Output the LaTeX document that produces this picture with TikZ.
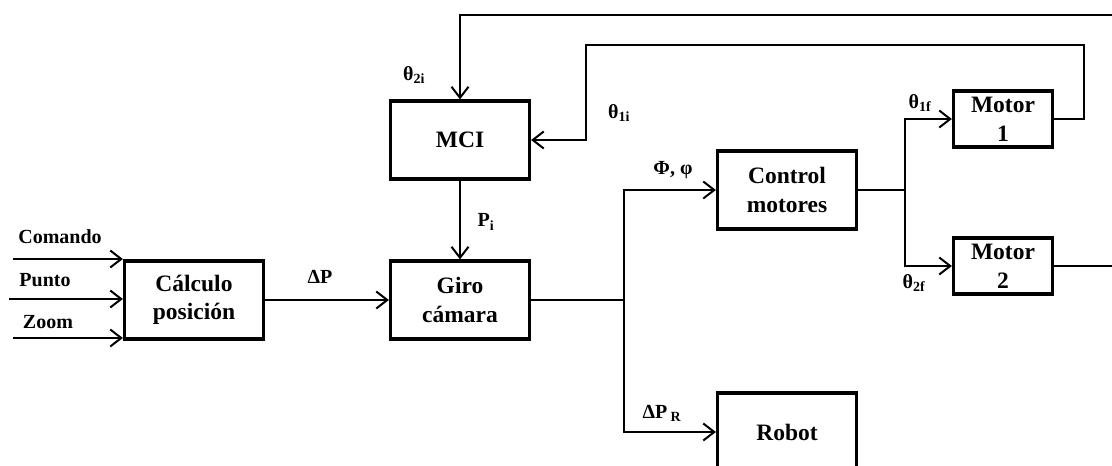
\documentclass[tikz,border=0pt]{standalone}
\usepackage{fontspec}
\setmainfont{Liberation Serif}
\usetikzlibrary{arrows.meta}
\begin{document}
\begin{tikzpicture}[x=1pt,y=-1pt,
 blk/.style={draw, line width=3.2pt, minimum width=139pt, minimum height=78pt, align=center,
   font=\fontsize{23.5}{28.5}\selectfont\bfseries, inner sep=0pt},
 mot/.style={blk, minimum width=99pt, minimum height=56pt, font=\fontsize{23.5}{29}\selectfont\bfseries},
 lbl/.style={font=\fontsize{20}{22}\selectfont\bfseries, inner sep=0pt},
 con/.style={line width=2pt, -{Straight Barb[length=11pt,width=17pt]}},
 wire/.style={line width=2pt}]
\useasboundingbox (0,0) rectangle (1112,466);
\begin{scope}
\clip (0,0) rectangle (1112,466);
\node[blk] (calc) at (194,300) {Cálculo\\posición};
\node[blk] (giro) at (460,300) {Giro\\cámara};
\node[blk] (mci) at (460,140) {MCI};
\node[blk] (ctrl) at (787,190) {Control\\motores};
\node[blk] (robot) at (787,432) {Robot};
\node[mot] (m1) at (1003,119) {Motor\\1};
\node[mot] (m2) at (1003,266) {Motor\\2};

\coordinate (in1) at (13,259);
\coordinate (in2) at (9,299);
\coordinate (in3) at (13,338);
\draw[con] (in1) -- (in1 -| calc.west);
\draw[con] (in2) -- (in2 -| calc.west);
\draw[con] (in3) -- (in3 -| calc.west);

\draw[con] (calc) -- (giro);
\draw[con] (mci) -- (giro);

\coordinate (j1) at (624,300);
\draw[wire] (giro.east) -- (j1);
\draw[con] (j1) |- (ctrl.west);
\draw[con] (j1) |- (robot.west);

\coordinate (j2) at (905,190);
\draw[wire] (ctrl.east) -- (j2);
\draw[con] (j2) |- (m1.west);
\draw[con] (j2) |- (m2.west);

\coordinate (f1a) at (1084,45);
\coordinate (f1b) at (586,45);
\draw[con] (m1.east) -| (f1a) -- (f1b) |- (mci.east);

\coordinate (f2a) at (1130,15);
\draw[con] (m2.east) -| (f2a) -| (mci.north);

\node[lbl] (lcom) at (60,237) {Comando};
\node[lbl] (lpun) at (45,280) {Punto};
\node[lbl] (lzoo) at (48,322) {Zoom};
\node[lbl] (ldp) at (320,277) {ΔP};
\node[lbl] (lpi) at (486,222) {P\textsubscript{i}};
\node[lbl] (lt2i) at (414,75) {θ\textsubscript{2i}};
\node[lbl] (lt1i) at (619,113) {θ\textsubscript{1i}};
\node[lbl] (lphi) at (673,170) {Φ, φ};
\node[lbl] (ldpr) at (662,413) {ΔP\,\textsubscript{R}};
\node[lbl] (lt1f) at (920,103) {θ\textsubscript{1f}};
\node[lbl] (lt2f) at (914,283) {θ\textsubscript{2f}};
\end{scope}
\end{tikzpicture}
\end{document}
